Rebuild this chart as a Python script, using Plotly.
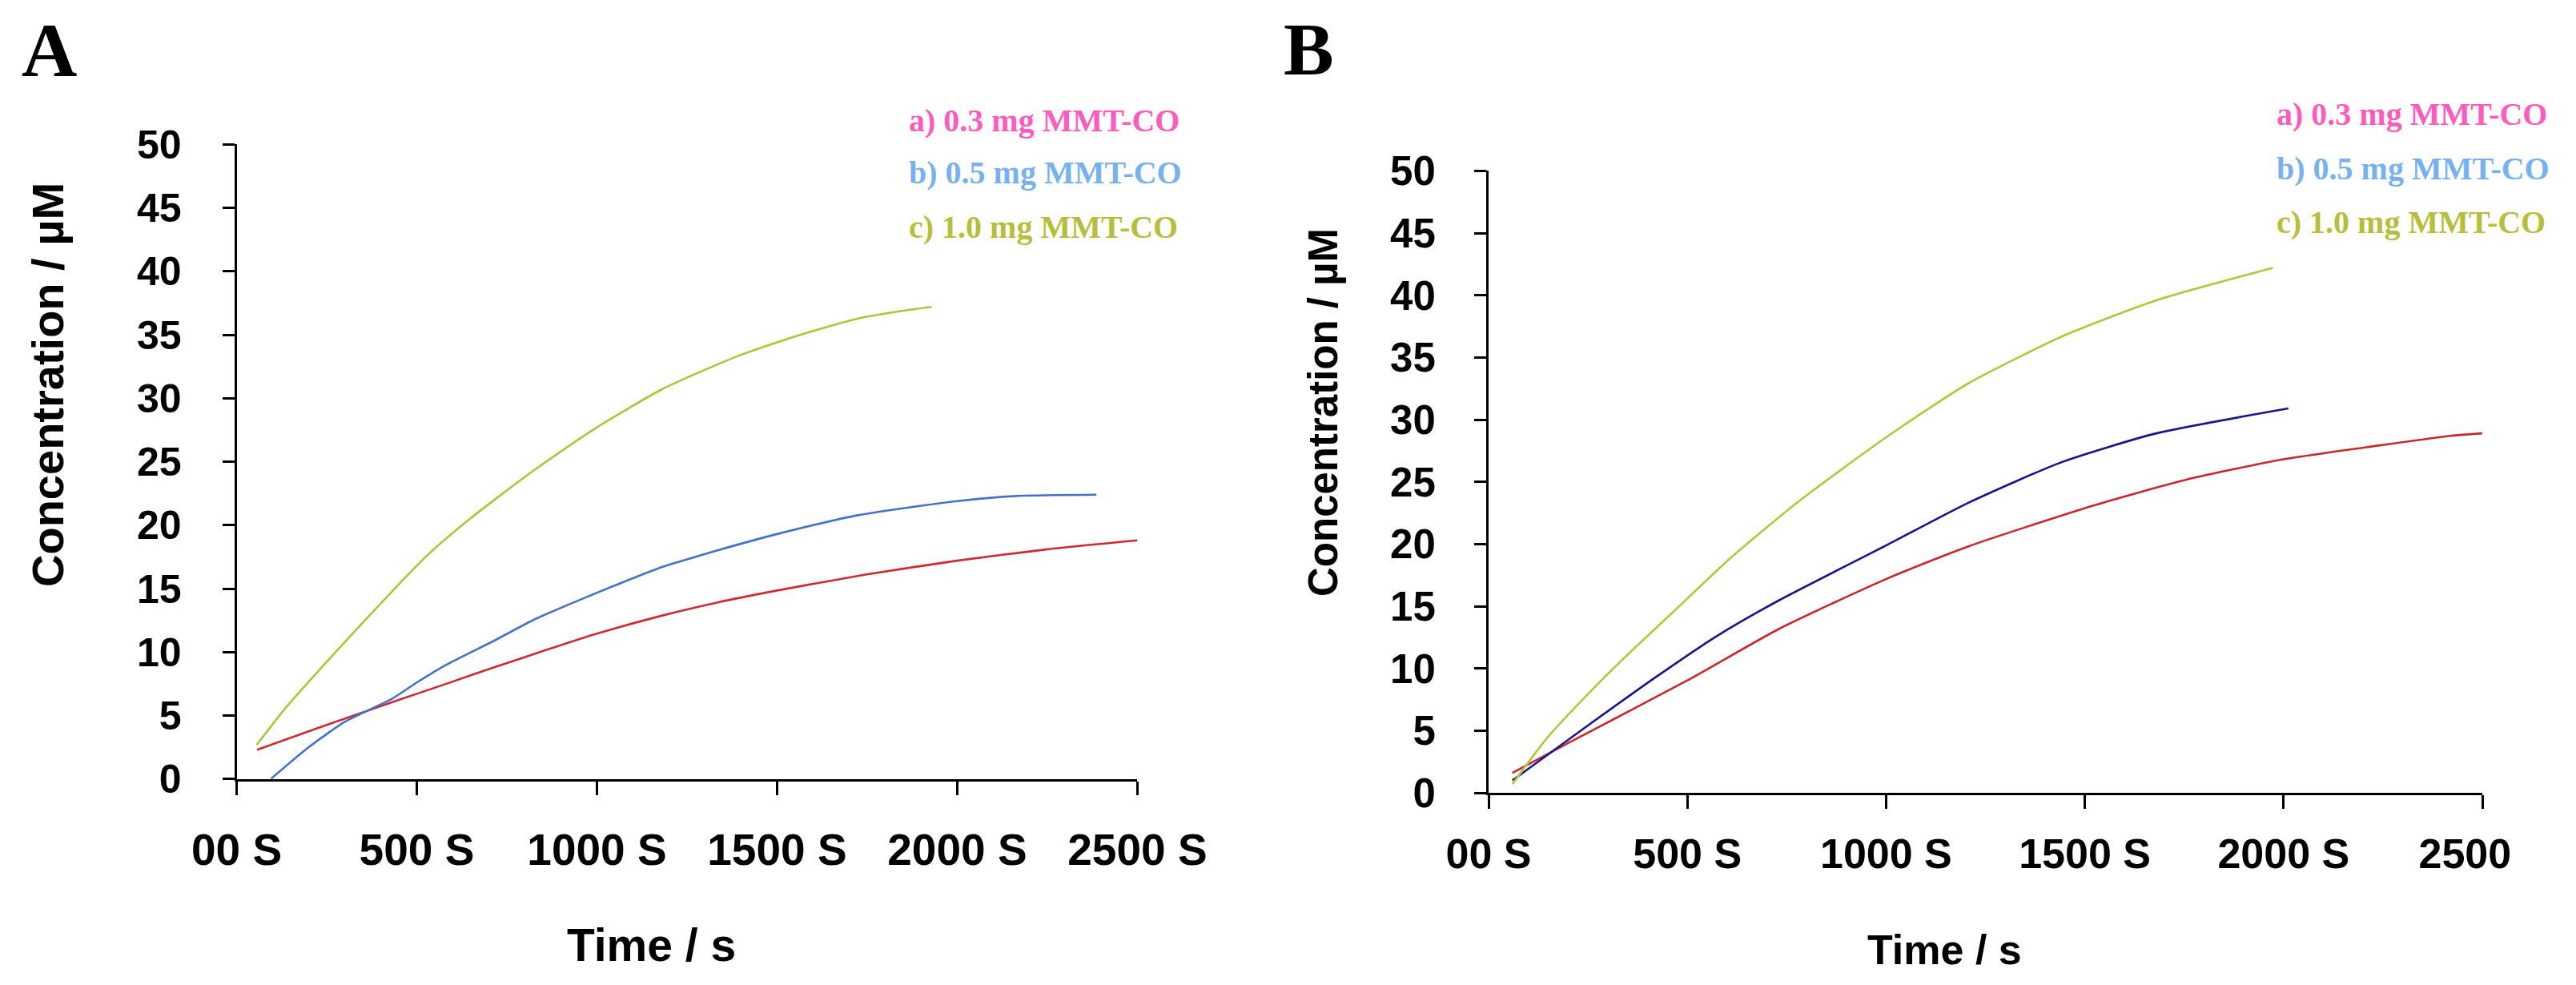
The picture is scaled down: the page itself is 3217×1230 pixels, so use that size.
import plotly.graph_objects as go

# ---------------- data ----------------
# Panel A
a_red_x = [57, 234, 437, 582, 715, 842, 994, 1171, 1333, 1500, 1745, 2000, 2251, 2500]
a_red_y = [2.3, 4.1, 6.1, 7.5, 8.8, 10.0, 11.4, 12.8, 13.9, 14.85, 16.1, 17.2, 18.1, 18.8]
a_blue_x = [95, 200, 300, 430, 500, 582, 715, 829, 994, 1171, 1250, 1333, 1500, 1728, 2000, 2163, 2386]
a_blue_y = [0.0, 2.5, 4.5, 6.3, 7.6, 9.0, 10.9, 12.6, 14.6, 16.6, 17.3, 18.0, 19.3, 20.8, 21.9, 22.3, 22.4]
a_green_x = [56, 133, 278, 437, 532, 652, 829, 994, 1180, 1380, 1500, 1600, 1728, 1850, 1929]
a_green_y = [2.7, 5.5, 10.1, 14.95, 17.7, 20.6, 24.4, 27.6, 30.7, 33.2, 34.4, 35.3, 36.3, 36.9, 37.2]

# Panel B
b_red_x = [60, 206, 498, 732, 1001, 1206, 1522, 1759, 1997, 2234, 2420, 2500]
b_red_y = [1.6, 4.1, 9.0, 13.2, 17.2, 19.8, 23.1, 25.2, 26.8, 27.9, 28.7, 28.9]
b_blue_x = [60, 258, 416, 574, 732, 1001, 1206, 1443, 1680, 2012]
b_blue_y = [1.0, 5.6, 9.2, 12.6, 15.5, 19.9, 23.3, 26.6, 28.9, 30.9]
b_green_x = [60, 147, 258, 353, 463, 606, 779, 1001, 1206, 1443, 1680, 1973]
b_green_y = [0.7, 4.4, 8.2, 11.2, 14.5, 18.8, 23.4, 28.6, 32.9, 36.7, 39.6, 42.2]

x_tickvals = [0, 500, 1000, 1500, 2000, 2500]
a_x_ticktext = ["00 S", "500 S", "1000 S", "1500 S", "2000 S", "2500 S"]
b_x_ticktext = ["00 S", "500 S", "1000 S", "1500 S", "2000 S", "2500\u00a0\u00a0\u00a0"]
y_tickvals = [0, 5, 10, 15, 20, 25, 30, 35, 40, 45, 50]

legend_labels = ["a) 0.3 mg MMT-CO", "b) 0.5 mg MMT-CO", "c) 1.0 mg MMT-CO"]
legend_colors = ["#FF5CBE", "#78B2EE", "#B7BE3C"]

# ---------------- styling ----------------
W, H = 3217, 1230
SANS = "Liberation Sans, Arial, Helvetica, sans-serif"
SERIF = "Liberation Serif, Times New Roman, serif"

def px_x(x):
    return x / W

def px_y(y):
    return 1 - y / H

fig = go.Figure()

def add_line(x, y, color, xa, ya, name):
    fig.add_trace(go.Scatter(x=x, y=y, mode="lines", name=name,
                             line=dict(color=color, width=2.6, shape="spline", smoothing=0.6),
                             xaxis=xa, yaxis=ya, showlegend=False, hoverinfo="x+y"))

add_line(a_red_x, a_red_y, "#D02A2E", "x", "y", legend_labels[0])
add_line(a_blue_x, a_blue_y, "#4472C8", "x", "y", legend_labels[1])
add_line(a_green_x, a_green_y, "#B3C23A", "x", "y", legend_labels[2])
add_line(b_red_x, b_red_y, "#C8282C", "x2", "y2", legend_labels[0])
add_line(b_blue_x, b_blue_y, "#16168A", "x2", "y2", legend_labels[1])
add_line(b_green_x, b_green_y, "#B4C640", "x2", "y2", legend_labels[2])

def xaxis_cfg(domain, anchor, ticktext, size, standoff):
    return dict(domain=domain, anchor=anchor, range=[0, 2500], tickmode="array",
                tickvals=x_tickvals, ticktext=ticktext, showline=True, linecolor="black",
                linewidth=3, ticks="outside", ticklen=17, tickwidth=3, tickcolor="black",
                tickfont=dict(family=SANS, size=size, color="black", weight="bold"),
                ticklabelstandoff=standoff, showgrid=False, zeroline=False,
                automargin=False, fixedrange=True)

def yaxis_cfg(domain, anchor, size, standoff):
    return dict(domain=domain, anchor=anchor, range=[0, 50], tickmode="array",
                tickvals=y_tickvals, showline=True, linecolor="black",
                linewidth=3, ticks="outside", ticklen=15, tickwidth=3, tickcolor="black",
                tickfont=dict(family=SANS, size=size, color="black", weight="bold"),
                ticklabelstandoff=standoff, showgrid=False, zeroline=False,
                automargin=False, fixedrange=True)

fig.update_layout(
    width=W, height=H, margin=dict(l=0, r=0, t=0, b=0, pad=0),
    paper_bgcolor="white", plot_bgcolor="white",
    xaxis=xaxis_cfg([px_x(295.5), px_x(1420.4)], "y", a_x_ticktext, 55, 21),
    yaxis=yaxis_cfg([px_y(972.7), px_y(180.4)], "x", 50, 41),
    xaxis2=xaxis_cfg([px_x(1859), px_x(3100)], "y2", b_x_ticktext, 52, 12),
    yaxis2=yaxis_cfg([px_y(990), px_y(213.4)], "x2", 51, 38),
)

ann = []
# panel letters
ann.append(dict(text="<b>A</b>", x=px_x(62), y=px_y(62), font=dict(family=SERIF, size=96, color="black")))
ann.append(dict(text="<b>B</b>", x=px_x(1634), y=px_y(61), font=dict(family=SERIF, size=94, color="black")))
# axis titles
ann.append(dict(text="<b>Concentration / µM</b>", x=px_x(59), y=px_y(481), textangle=-90,
                font=dict(family=SANS, size=56, color="black")))
ann.append(dict(text="<b>Concentration / µM</b>", x=px_x(1652), y=px_y(515), textangle=-90,
                font=dict(family=SANS, size=51, color="black")))
ann.append(dict(text="<b>Time / s</b>", x=px_x(813), y=px_y(1180),
                font=dict(family=SANS, size=57, color="black")))
ann.append(dict(text="<b>Time / s</b>", x=px_x(2428), y=px_y(1186),
                font=dict(family=SANS, size=52, color="black")))
# legend texts
a_leg_y = [150, 215, 283]
b_leg_y = [143, 210, 277]
for lab, col, ya, yb in zip(legend_labels, legend_colors, a_leg_y, b_leg_y):
    ann.append(dict(text="<b>" + lab + "</b>", x=px_x(1133), y=px_y(ya), xanchor="left",
                    font=dict(family=SERIF, size=40, color=col)))
    ann.append(dict(text="<b>" + lab + "</b>", x=px_x(2841), y=px_y(yb), xanchor="left",
                    font=dict(family=SERIF, size=40, color=col)))

for a in ann:
    a.setdefault("xanchor", "center")
    a.update(xref="paper", yref="paper", yanchor="middle", showarrow=False)
fig.update_layout(annotations=ann)

fig.write_html("out.html", config={"displayModeBar": False},
               post_script="document.body.style.margin='0';")
